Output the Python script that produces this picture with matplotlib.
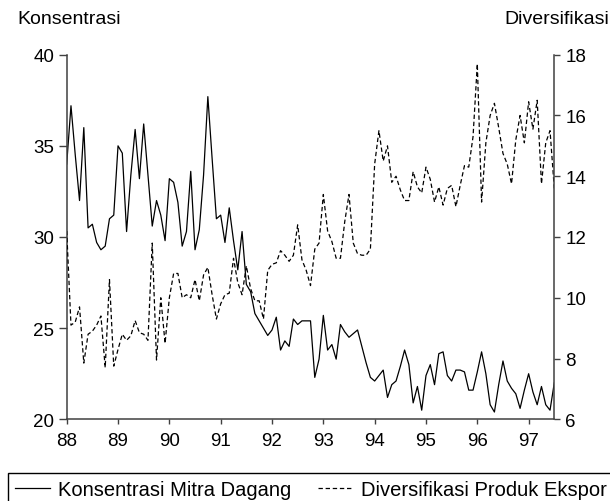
import matplotlib
matplotlib.use('Agg')
import matplotlib.pyplot as plt
import numpy as np

# monthly data, 1988:01 - 1997:07
start_year = 88
konsentrasi = [34.0, 37.2, 34.5, 32.0, 36.0, 30.5, 30.7, 29.7, 29.3, 29.5,
               31.0, 31.2, 35.0, 34.6, 30.3, 33.4, 35.9, 33.2, 36.2, 33.4,
               30.6, 32.0, 31.2, 29.8, 33.2, 33.0, 31.9, 29.5, 30.3, 33.6,
               29.3, 30.4, 33.4, 37.7, 34.3, 31.0, 31.2, 29.7, 31.6, 29.8,
               28.2, 30.3, 27.4, 27.0, 25.8, 25.4, 25.0, 24.6, 24.9, 25.6,
               23.8, 24.3, 24.0, 25.5, 25.2, 25.4, 25.4, 25.4, 22.3, 23.3,
               25.7, 23.8, 24.1, 23.3, 25.2, 24.8, 24.5, 24.7, 24.9, 24.0,
               23.1, 22.3, 22.1, 22.4, 22.7, 21.2, 21.9, 22.1, 22.9, 23.8,
               23.0, 20.9, 21.8, 20.5, 22.4, 23.0, 21.9, 23.6, 23.7, 22.4,
               22.1, 22.7, 22.7, 22.6, 21.6, 21.6, 22.6, 23.7, 22.5, 20.8,
               20.4, 21.9, 23.2, 22.1, 21.7, 21.4, 20.6, 21.6, 22.5, 21.5,
               20.8, 21.8, 20.8, 20.5, 22.0]
diversifikasi = [12.2, 9.1, 9.2, 9.7, 7.85, 8.8, 8.9, 9.1, 9.4, 7.7,
                 10.6, 7.75, 8.3, 8.8, 8.6, 8.75, 9.25, 8.85, 8.8, 8.6,
                 11.8, 7.95, 10.0, 8.5, 10.0, 10.8, 10.8, 10.0, 10.1, 10.0,
                 10.6, 9.9, 10.75, 11.0, 10.1, 9.3, 9.8, 10.1, 10.15, 11.3,
                 10.5, 10.1, 11.05, 10.3, 9.9, 9.9, 9.3, 10.9, 11.1, 11.15,
                 11.55, 11.4, 11.2, 11.4, 12.4, 11.25, 10.9, 10.4, 11.6, 11.8,
                 13.4, 12.2, 11.85, 11.3, 11.3, 12.5, 13.4, 11.8, 11.45, 11.4,
                 11.4, 11.6, 14.4, 15.5, 14.5, 15.0, 13.8, 14.0, 13.55, 13.2,
                 13.2, 14.15, 13.65, 13.45, 14.3, 13.9, 13.15, 13.65, 13.05, 13.6,
                 13.7, 13.0, 13.7, 14.35, 14.3, 15.3, 17.7, 13.15, 15.1, 16.0,
                 16.4, 15.6, 14.75, 14.4, 13.75, 15.2, 16.0, 15.1, 16.45, 15.55,
                 16.5, 13.75, 15.1, 15.5, 13.6]
year_ticks = list(range(88, 98))
left_ticks = [20, 25, 30, 35, 40]
right_ticks = [6, 8, 10, 12, 14, 16, 18]

plt.rcParams['font.family'] = ['Liberation Sans', 'DejaVu Sans']

W, H = 610, 502
fig = plt.figure(figsize=(W / 100, H / 100), dpi=100)
ax = fig.add_axes([66.7 / W, 1 - 420.3 / H, (554.3 - 66.7) / W, (420.3 - 55.7) / H])
ax2 = ax.twinx()

t = start_year + np.arange(len(konsentrasi)) / 12.0
l1, = ax.plot(t, konsentrasi, color='black', lw=0.9, label='Konsentrasi Mitra Dagang')
l2, = ax2.plot(t, diversifikasi, color='black', lw=0.9, linestyle=(0, (3.5, 2.2)),
               label='Diversifikasi Produk Ekspor')

ax.set_xlim(88, 97.5)
ax.set_ylim(20, 40)
ax2.set_ylim(6, 18)
ax.set_xticks(year_ticks)
ax.set_yticks(left_ticks)
ax2.set_yticks(right_ticks)

spine_col = '#404040'
for a in (ax, ax2):
    a.spines['top'].set_visible(False)
    for s in a.spines.values():
        s.set_linewidth(1.1)
        s.set_color(spine_col)
ax.spines['right'].set_visible(False)
ax2.spines['left'].set_visible(False)
ax2.spines['bottom'].set_visible(False)

ax.tick_params(axis='y', direction='out', length=5.5, width=1, pad=3.5,
               labelsize=13.5, color=spine_col)
ax.tick_params(axis='x', direction='out', length=3.8, width=1, pad=5,
               labelsize=13.5, color=spine_col)
ax2.tick_params(axis='y', direction='out', length=4.5, width=1, pad=3.5,
                labelsize=13.5, color=spine_col)

fig.text(17 / W, 1 - 24 / H, 'Konsentrasi', fontsize=14, ha='left', va='baseline')
fig.text(609 / W, 1 - 24 / H, 'Diversifikasi', fontsize=14, ha='right', va='baseline')

leg = fig.legend([l1, l2], [l1.get_label(), l2.get_label()], loc='upper left',
                 bbox_to_anchor=(8 / W, 1 - 474 / H, 606 / W, 0), mode='expand',
                 ncol=2, fontsize=14.5, frameon=True, fancybox=False,
                 edgecolor='black', framealpha=1, handlelength=1.75,
                 handletextpad=0.4, borderpad=0.35, borderaxespad=0,
                 columnspacing=1.1)
leg.get_frame().set_linewidth(1.0)

fig.savefig('out.png', dpi=100)
